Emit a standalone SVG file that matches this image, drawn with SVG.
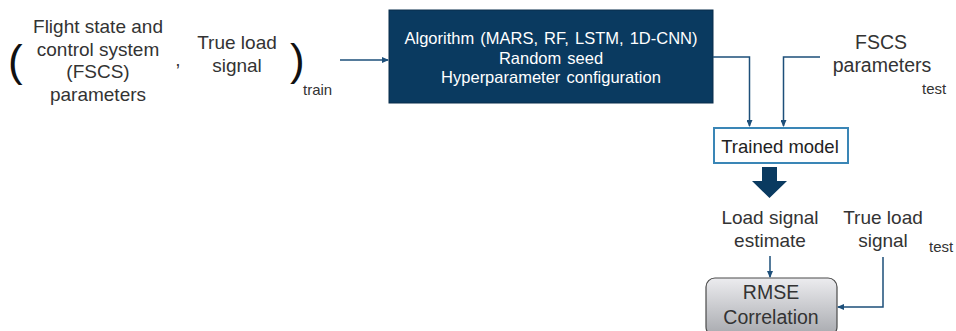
<svg xmlns="http://www.w3.org/2000/svg" width="956" height="331" viewBox="0 0 956 331">
<style>
.t{font-family:"Liberation Sans",Arial,sans-serif;fill:#333;text-anchor:middle}
.w{font-family:"Liberation Sans",Arial,sans-serif;fill:#fff;text-anchor:middle;font-size:16.5px;word-spacing:1.5px}
.s{font-family:"Liberation Sans",Arial,sans-serif;fill:#333;font-size:15px}
.c{fill:none;stroke:#1d4f7a;stroke-width:1.5}
</style>
<defs>
<marker id="ah" markerWidth="7" markerHeight="6" refX="6" refY="3" orient="auto" markerUnits="userSpaceOnUse">
<path d="M0,0 L7,3 L0,6 Z" fill="#1d4f7a"/>
</marker>
<linearGradient id="g" x1="0" y1="0" x2="0" y2="1">
<stop offset="0" stop-color="#ececef"/>
<stop offset="1" stop-color="#a7a9ae"/>
</linearGradient>
</defs>
<rect width="956" height="331" fill="#fff"/>
<g id="train-input">
<text class="t" x="8" y="76" style="text-anchor:start;font-size:44px;fill:#111">(</text>
<text class="t" x="98" y="33" font-size="19">Flight state and</text>
<text class="t" x="98" y="56" font-size="19">control system</text>
<text class="t" x="98" y="78" font-size="19">(FSCS)</text>
<text class="t" x="98" y="101" font-size="19">parameters</text>
<text class="t" x="178" y="66" font-size="19">,</text>
<text class="t" x="237" y="49" font-size="19">True load</text>
<text class="t" x="237" y="72" font-size="19">signal</text>
<text class="t" x="290" y="75" style="text-anchor:start;font-size:44px;fill:#111">)</text>
<text class="s" x="303" y="95">train</text>
</g>
<g id="algorithm">
<rect x="389" y="10" width="324" height="93" fill="#0a3a60" stroke="#082c4a" stroke-width="1"/>
<text class="w" x="551" y="44">Algorithm (MARS, RF, LSTM, 1D-CNN)</text>
<text class="w" x="551" y="63.5">Random seed</text>
<text class="w" x="551" y="83">Hyperparameter configuration</text>
</g>
<g id="fscs-test">
<text class="t" x="881" y="49" font-size="19.5">FSCS</text>
<text class="t" x="882" y="72" font-size="19.5">parameters</text>
<text class="s" x="922" y="94">test</text>
</g>
<g id="trained-model">
<rect x="714" y="128" width="134" height="35" fill="#fff" stroke="#3a86b6" stroke-width="2"/>
<text class="t" x="780" y="153" font-size="18.5" style="fill:#222">Trained model</text>
</g>
<g id="big-arrow">
<path d="M762,167 H777 V181 H787 L769.5,198 L752,181 H762 Z" fill="#0a3a60"/>
</g>
<g id="load-estimate">
<text class="t" x="770" y="224" font-size="19">Load signal</text>
<text class="t" x="770" y="247" font-size="19">estimate</text>
</g>
<g id="true-load-test">
<text class="t" x="883" y="224" font-size="19">True load</text>
<text class="t" x="883" y="247" font-size="19">signal</text>
<text class="s" x="929" y="252">test</text>
</g>
<g id="metrics">
<rect x="706" y="278" width="131" height="58" rx="9" fill="url(#g)" stroke="#4a4a4a" stroke-width="1.2"/>
<text class="t" x="771" y="299" font-size="19.5">RMSE</text>
<text class="t" x="771" y="324" font-size="19.5">Correlation</text>
</g>
<g id="connectors">
<path class="c" d="M340,60 H388" marker-end="url(#ah)"/>
<path class="c" d="M713,57 H749.5 V126" marker-end="url(#ah)"/>
<path class="c" d="M820,57 H783.5 V126" marker-end="url(#ah)"/>
<path class="c" d="M770,256 V277" marker-end="url(#ah)"/>
<path class="c" d="M883,257 V307 H838" marker-end="url(#ah)"/>
</g>
</svg>
